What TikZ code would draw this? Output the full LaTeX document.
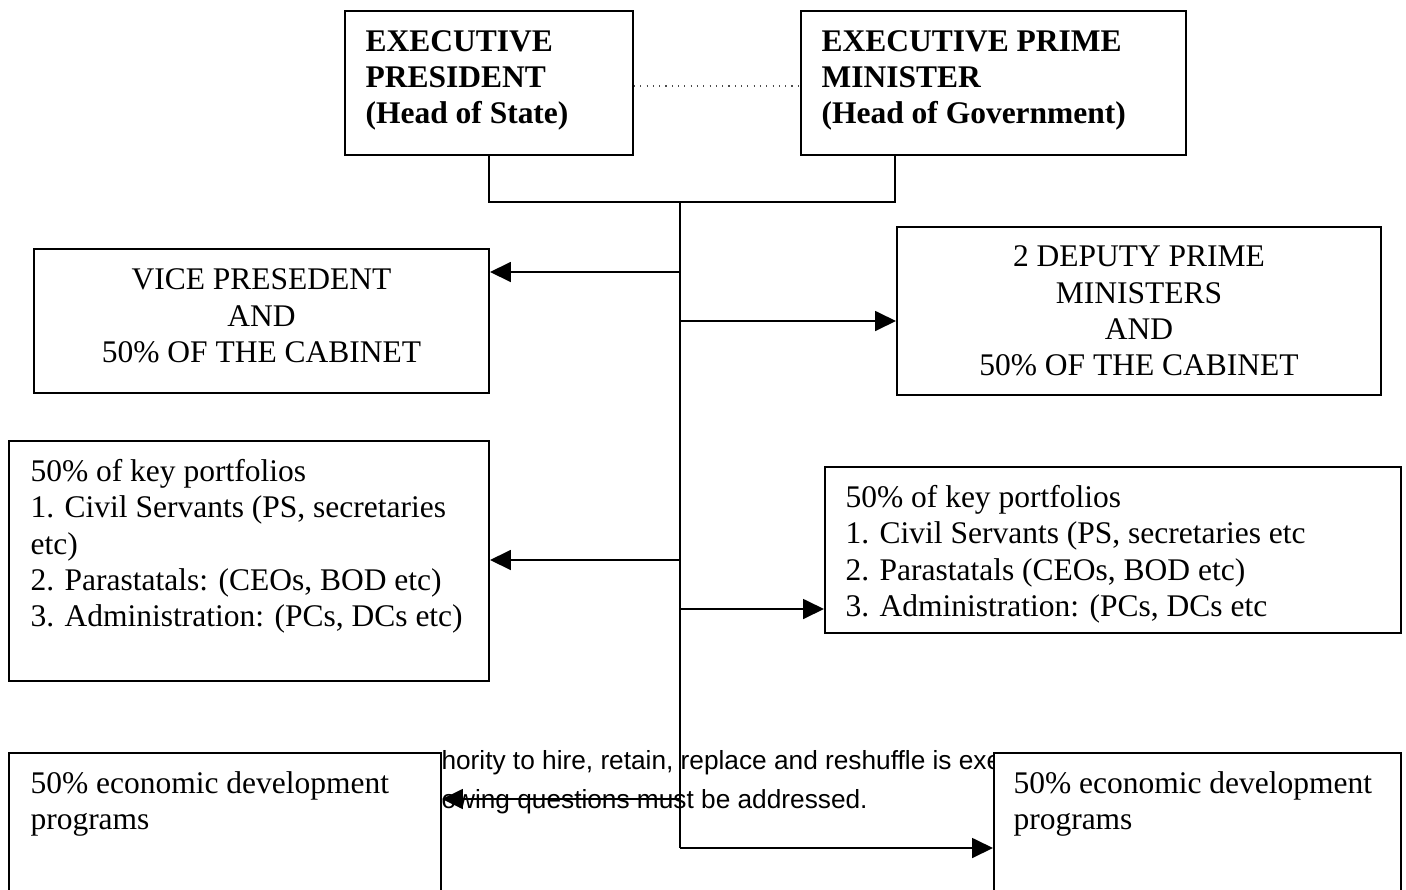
\documentclass[tikz,border=0pt]{standalone}
\usepackage{fontspec}
\setmainfont{Liberation Serif}
\newfontfamily\arialfont{Liberation Sans}
\usepackage{tikz}
\usetikzlibrary{calc}
\usetikzlibrary{arrows.meta}
\newcommand\boxfont{\fontsize{12}{13.8}\selectfont}
\newcommand\notefont{\arialfont\fontsize{10}{12}\selectfont}
\tikzset{>=latex}
\tikzstyle{box} = [rectangle, draw=black, line width=0.75pt, fill=white, inner sep=0pt, anchor=north west, align=center, font=\boxfont]
\tikzstyle{boxsize} = [minimum width=#1*0.381pt]
\tikzstyle{boxhigh} = [minimum height=#1*0.381pt]
\tikzstyle{txt} = [draw=none, inner sep=0pt, anchor=north west, align=left, font=\boxfont]
\tikzstyle{link} = [-, line width=0.75pt]
\tikzstyle{arr} = [-{Triangle[length=8pt, width=7.6pt]}, line width=0.75pt]

\begin{document}
\begin{tikzpicture}[x=0.381pt, y=-0.381pt]
\clip (0,0) rectangle (1406,890);
% note text, half hidden by the bottom boxes
\node [txt, anchor=base west, font=\notefont] (N1) at (441,769) {hority to hire, retain, replace and reshuffle is exe};
\node [txt, anchor=base west, font=\notefont] (N2) at (441,808) {owing questions must be addressed.};
% boxes
\node [box, boxsize=288, boxhigh=144] (P) at (344,10) {};
\node [box, boxsize=385, boxhigh=144] (PM) at (800,10) {};
\node [box, boxsize=455, boxhigh=144] (VP) at (33,248) {};
\node [box, boxsize=484, boxhigh=168] (DPM) at (896,226) {2 DEPUTY PRIME\\MINISTERS\\AND\\50\% OF THE CABINET};
\node [box, boxsize=480, boxhigh=240] (KL) at (8,440) {};
\node [box, boxsize=576, boxhigh=166] (KR) at (824,466) {};
\node [box, boxsize=432, boxhigh=160] (EL) at (8,752) {};
\node [box, boxsize=407, boxhigh=160] (ER) at (993,752) {};
% box texts
\node [txt, align=center, anchor=center] (VPtxt) at ($(VP.center)+(0,-5)$) {VICE PRESEDENT\\AND\\50\% OF THE CABINET};
\node [txt, font=\boxfont\bfseries] (Ptxt) at ($(P.north west)+(21,20)$) {EXECUTIVE\\PRESIDENT\\(Head of State)};
\node [txt, font=\boxfont\bfseries] (PMtxt) at ($(PM.north west)+(21,20)$) {EXECUTIVE PRIME\\MINISTER\\(Head of Government)};
\node [txt] (KLtxt) at ($(KL.north west)+(22,19)$) {50\% of key portfolios\\1. Civil Servants (PS, secretaries\\etc)\\2. Parastatals: (CEOs, BOD etc)\\3. Administration: (PCs, DCs etc)};
\node [txt] (KRtxt) at ($(KR.north west)+(21,19)$) {50\% of key portfolios\\1. Civil Servants (PS, secretaries etc\\2. Parastatals (CEOs, BOD etc)\\3. Administration: (PCs, DCs etc};
\node [txt] (ELtxt) at ($(EL.north west)+(22,19)$) {50\% economic development\\programs};
\node [txt] (ERtxt) at ($(ER.north west)+(20,19)$) {50\% economic development\\programs};
% connectors
\draw [dotted, line width=0.4pt, draw=black!70] ($(P.east)+(0,3)$) -- ($(PM.west)+(0,3)$);
\coordinate (bus) at (680,202);
\coordinate (PMleg) at (895,154);
\coordinate (tail) at (680,848);
\draw [link] (P.south) |- (bus) -| (PMleg);
\draw [link] (bus) -- (tail);
\coordinate (a1) at (680,272);
\coordinate (a2) at (680,321);
\coordinate (a3) at (680,560);
\coordinate (a4) at (680,609);
\coordinate (a5) at (680,799);
\draw [arr] (a1) -- (a1 -| VP.east);
\draw [arr] (a2) -- (a2 -| DPM.west);
\draw [arr] (a3) -- (a3 -| KL.east);
\draw [arr] (a4) -- (a4 -| KR.west);
\draw [arr] (a5) -- (a5 -| EL.east);
\draw [arr] (tail) -- (tail -| ER.west);
\end{tikzpicture}
\end{document}
